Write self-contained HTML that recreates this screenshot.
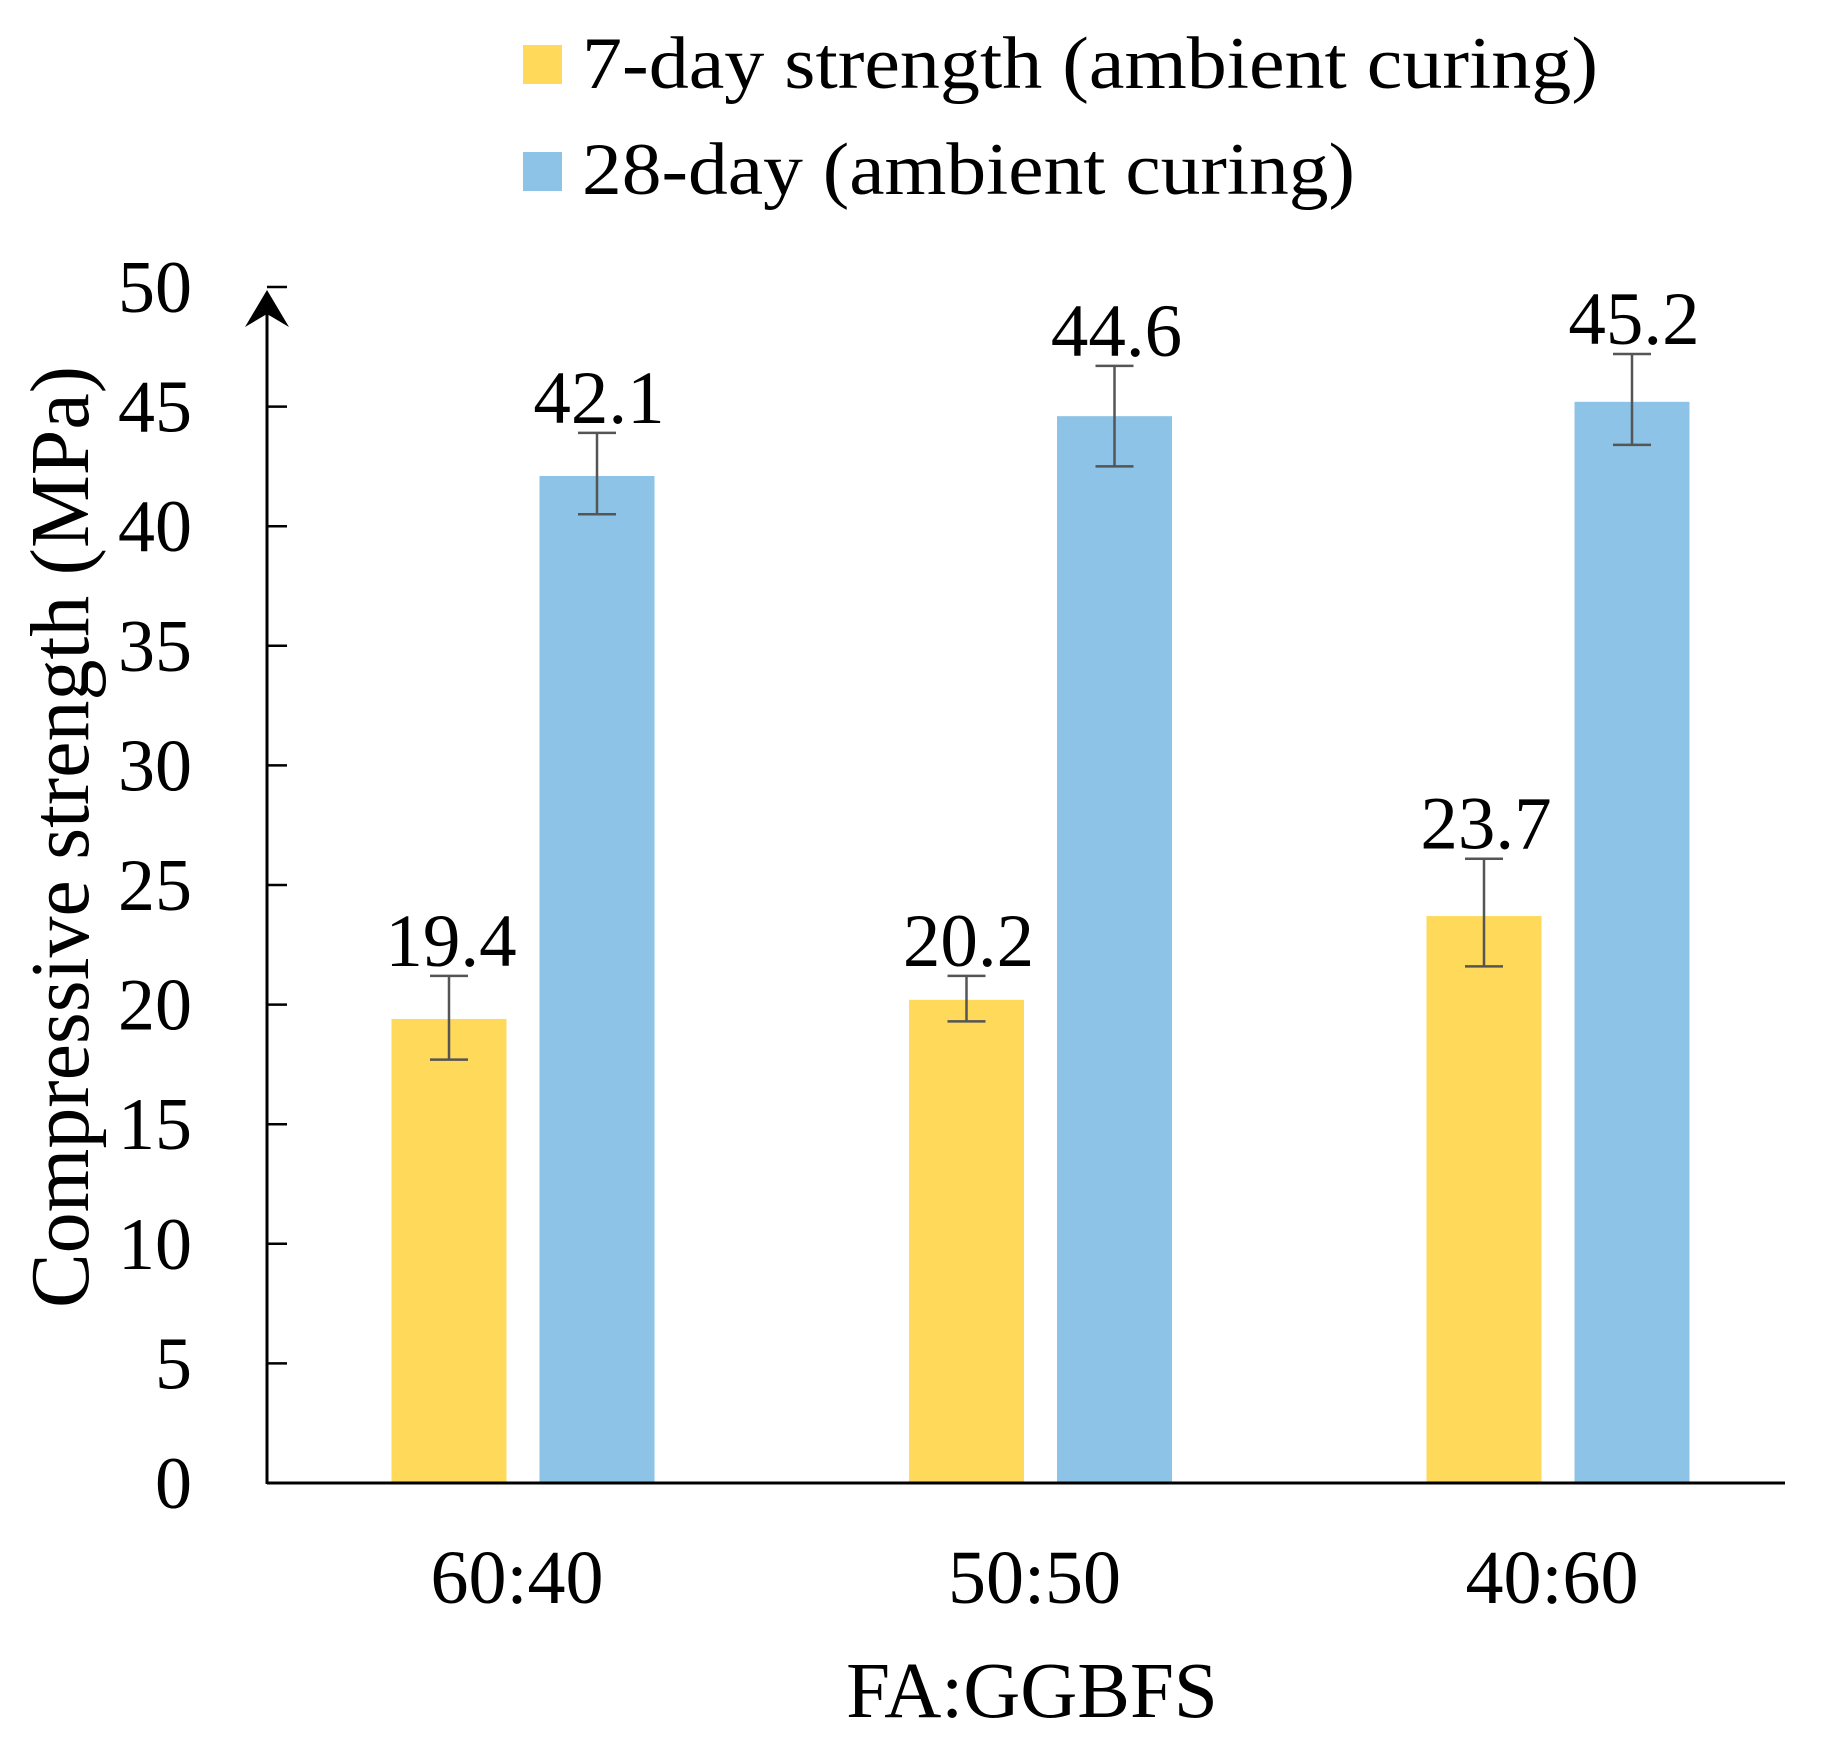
<!DOCTYPE html>
<html><head><meta charset="utf-8"><style>
html,body{margin:0;padding:0;background:#fff;}
svg{display:block;font-family:"Liberation Serif",serif;}
</style></head><body>
<svg id="chart" width="1835" height="1748" viewBox="0 0 1835 1748">
<g>
  <rect x="523" y="45" width="39" height="39" fill="#FFD95A"/>
  <text x="582" y="88" font-size="74" textLength="1016" lengthAdjust="spacingAndGlyphs">7-day strength (ambient curing)</text>
  <rect x="523" y="152" width="39" height="39" fill="#8DC3E6"/>
  <text x="582" y="194" font-size="74" textLength="773" lengthAdjust="spacingAndGlyphs">28-day (ambient curing)</text>
</g>
<text transform="translate(88,837) rotate(-90)" text-anchor="middle" font-size="84" textLength="942" lengthAdjust="spacingAndGlyphs">Compressive strength (MPa)</text>
<text x="1032" y="1717" text-anchor="middle" font-size="79">FA:GGBFS</text>
<g id="plot"></g>
</svg>
<script>
const categories = ["60:40", "50:50", "40:60"];
const strength7 = [19.4, 20.2, 23.7];
const strength28 = [42.1, 44.6, 45.2];
const err7Upper = [21.2, 21.2, 26.1];
const err7Lower = [17.7, 19.3, 21.6];
const err28Upper = [43.9, 46.7, 47.2];
const err28Lower = [40.5, 42.5, 43.4];
const yTicks = [0, 5, 10, 15, 20, 25, 30, 35, 40, 45, 50];

const NS = "http://www.w3.org/2000/svg";
const plot = document.getElementById("plot");
const X0 = 267, XEND = 1785, Y0 = 1483, YTOP = 287;
function y(v){ return Y0 - (v/50)*(Y0-YTOP); }
function groupCenter(i){ return 517 + i*517.5; }
function mk(tag, attrs, parent){
  const e = document.createElementNS(NS, tag);
  for (const k in attrs) e.setAttribute(k, attrs[k]);
  (parent||plot).appendChild(e);
  return e;
}
yTicks.forEach(t=>{
  const l = mk("line",{x1:X0,x2:X0+20,y1:y(t),y2:y(t),stroke:"#000","stroke-width":2.5});
  
  
  const tx = mk("text",{x:192,y:y(t)+25,"text-anchor":"end","font-size":74});
  tx.textContent = t;
  
  
});
const BW = 115;
function drawBar(cx, val, up, lo, color, name){
  const r = mk("rect",{x:cx-BW/2,y:y(val),width:BW,height:Y0-y(val),fill:color});
  
  
  const g = mk("g",{stroke:"#555","stroke-width":2.5});
  
  
  mk("line",{x1:cx,x2:cx,y1:y(up),y2:y(lo)},g);
  mk("line",{x1:cx-19,x2:cx+19,y1:y(up),y2:y(up)},g);
  mk("line",{x1:cx-19,x2:cx+19,y1:y(lo),y2:y(lo)},g);
  const t = mk("text",{x:cx+2,y:y(up)-10,"text-anchor":"middle","font-size":75});
  t.textContent = val.toFixed(1);
  
  
}
categories.forEach((c,i)=>{
  const gc = groupCenter(i);
  drawBar(gc-68, strength7[i], err7Upper[i], err7Lower[i], "#FFD95A", "bar-7day");
  drawBar(gc+80, strength28[i], err28Upper[i], err28Lower[i], "#8DC3E6", "bar-28day");
  const t = mk("text",{x:gc,y:1603,"text-anchor":"middle","font-size":76});
  t.textContent = c;
  
  
});
const ax = mk("line",{x1:X0,x2:XEND,y1:Y0,y2:Y0,stroke:"#000","stroke-width":3});


const ay = mk("line",{x1:X0,x2:X0,y1:Y0+1,y2:300,stroke:"#000","stroke-width":3});


const ar = mk("path",{d:`M${X0} 290 L${X0+22} 327 L${X0} 314 L${X0-22} 327 Z`,fill:"#000"});


</script>
</body></html>
